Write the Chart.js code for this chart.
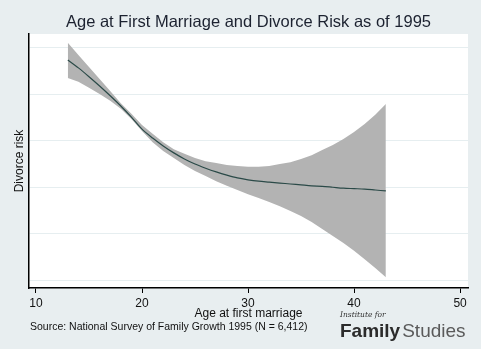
<!DOCTYPE html>
<html>
<head>
<meta charset="utf-8">
<script src="https://cdn.jsdelivr.net/npm/chart.js@4"></script>
<style>
  html, body { margin: 0; padding: 0; background: #e8eef0; }
  #wrap { width: 481px; height: 349px; position: relative; }
</style>
</head>
<body>
<div id="wrap"><canvas id="chart" width="481" height="349"></canvas></div>
<script>
// Age at first marriage
const ages = [13, 14, 15, 16, 17, 18, 19, 20, 21, 22, 23, 24, 25, 26, 27, 28,
              29, 30, 31, 32, 33, 34, 35, 36, 37, 38, 39, 40, 41, 42, 43];

// Fitted divorce risk (no units shown on the y axis)
const risk = [4.74, 4.57, 4.38, 4.18, 3.97, 3.75, 3.51, 3.25, 3.06, 2.89, 2.74,
              2.61, 2.50, 2.41, 2.33, 2.26, 2.20, 2.16, 2.13, 2.11, 2.09, 2.07,
              2.05, 2.03, 2.02, 2.00, 1.98, 1.97, 1.96, 1.94, 1.92];

// Confidence band
const upper = [5.11, 4.85, 4.59, 4.33, 4.07, 3.81, 3.58, 3.34, 3.15, 2.97, 2.82,
               2.72, 2.63, 2.56, 2.52, 2.48, 2.46, 2.44, 2.44, 2.46, 2.50, 2.54,
               2.61, 2.69, 2.80, 2.91, 3.04, 3.19, 3.36, 3.56, 3.79];
const lower = [4.35, 4.27, 4.14, 4.01, 3.86, 3.69, 3.47, 3.21, 2.97, 2.78, 2.63,
               2.48, 2.35, 2.24, 2.13, 2.03, 1.94, 1.85, 1.77, 1.68, 1.59, 1.49,
               1.38, 1.25, 1.10, 0.95, 0.80, 0.63, 0.45, 0.26, 0.06];

const xTicks = [10, 20, 30, 40, 50];
const yGrid = [0, 1, 2, 3, 4, 5];

const toPoints = vals => ages.map((a, i) => ({ x: a, y: vals[i] }));

// Background, white plot region and the text around the chart
const decorations = {
    id: 'decorations',
    beforeDraw(chart) {
        const { ctx, chartArea: a } = chart;
        ctx.save();
        ctx.fillStyle = '#e8eef0';
        ctx.fillRect(0, 0, chart.width, chart.height);
        ctx.fillStyle = '#ffffff';
        ctx.fillRect(a.left, a.top, a.right - a.left, a.bottom - a.top);
        ctx.restore();
    },
    afterDraw(chart) {
        const { ctx, chartArea: a } = chart;
        const cx = (a.left + a.right) / 2;
        ctx.save();
        ctx.textBaseline = 'alphabetic';

        // title
        ctx.fillStyle = '#1c2230';
        ctx.font = '16.5px Arial, "Liberation Sans", sans-serif';
        ctx.textAlign = 'center';
        ctx.fillText('Age at First Marriage and Divorce Risk as of 1995', cx, 27);

        // axis titles
        ctx.fillStyle = '#111111';
        ctx.font = '12px Arial, "Liberation Sans", sans-serif';
        ctx.fillText('Age at first marriage', cx, 317);
        ctx.save();
        ctx.translate(23, (a.top + a.bottom) / 2);
        ctx.rotate(-Math.PI / 2);
        ctx.fillText('Divorce risk', 0, 0);
        ctx.restore();

        // source note
        ctx.textAlign = 'left';
        ctx.font = '10.5px Arial, "Liberation Sans", sans-serif';
        ctx.fillText('Source: National Survey of Family Growth 1995 (N = 6,412)', 30, 330);

        // logo
        ctx.font = 'italic 7.5px "DejaVu Serif", serif';
        ctx.fillStyle = '#333333';
        ctx.fillText('Institute for', 340, 317);
        ctx.font = 'bold 19px Arial, "Liberation Sans", sans-serif';
        ctx.fillStyle = '#2b2b2b';
        ctx.fillText('Family', 340, 337);
        const w = ctx.measureText('Family').width;
        ctx.font = '19px Arial, "Liberation Sans", sans-serif';
        ctx.fillStyle = '#5a5a5a';
        ctx.fillText('Studies', 340 + w + 2, 337);
        ctx.restore();
    }
};

new Chart(document.getElementById('chart'), {
    type: 'scatter',
    data: {
        datasets: [{
            label: 'Upper',
            data: toPoints(upper),
            showLine: true,
            borderWidth: 0,
            borderColor: 'rgba(0,0,0,0)',
            backgroundColor: '#b3b3b3',
            pointRadius: 0,
            fill: '+1',
            order: 2
        }, {
            label: 'Lower',
            data: toPoints(lower),
            showLine: true,
            borderWidth: 0,
            borderColor: 'rgba(0,0,0,0)',
            backgroundColor: '#b3b3b3',
            pointRadius: 0,
            fill: false,
            order: 2
        }, {
            label: 'Divorce risk',
            data: toPoints(risk),
            showLine: true,
            borderWidth: 1.2,
            borderColor: '#2b4a48',
            pointRadius: 0,
            fill: false,
            tension: 0.3,
            order: 1
        }]
    },
    options: {
        responsive: false,
        animation: false,
        events: [],
        layout: { padding: { left: 0, right: 13, top: 34, bottom: 0 } },
        plugins: {
            legend: { display: false },
            tooltip: { enabled: false }
        },
        scales: {
            x: {
                type: 'linear',
                min: 9.34,
                max: 50.75,
                afterBuildTicks: axis => { axis.ticks = xTicks.map(v => ({ value: v })); },
                afterFit: axis => { axis.height = 61; },
                ticks: {
                    color: '#111111',
                    font: { family: 'Arial, "Liberation Sans", sans-serif', size: 12 },
                    padding: 3,
                    maxRotation: 0
                },
                grid: { drawOnChartArea: false, drawTicks: true, tickLength: 5, color: '#000000' },
                border: { color: '#000000', width: 1.5 }
            },
            y: {
                min: -0.17,
                max: 5.3,
                afterBuildTicks: axis => { axis.ticks = yGrid.map(v => ({ value: v })); },
                afterFit: axis => { axis.width = 29; },
                ticks: { display: false },
                grid: { color: '#e6eef0', drawTicks: false, lineWidth: 1 },
                border: { color: '#000000', width: 1.5 }
            }
        }
    },
    plugins: [decorations]
});
</script>
</body>
</html>
